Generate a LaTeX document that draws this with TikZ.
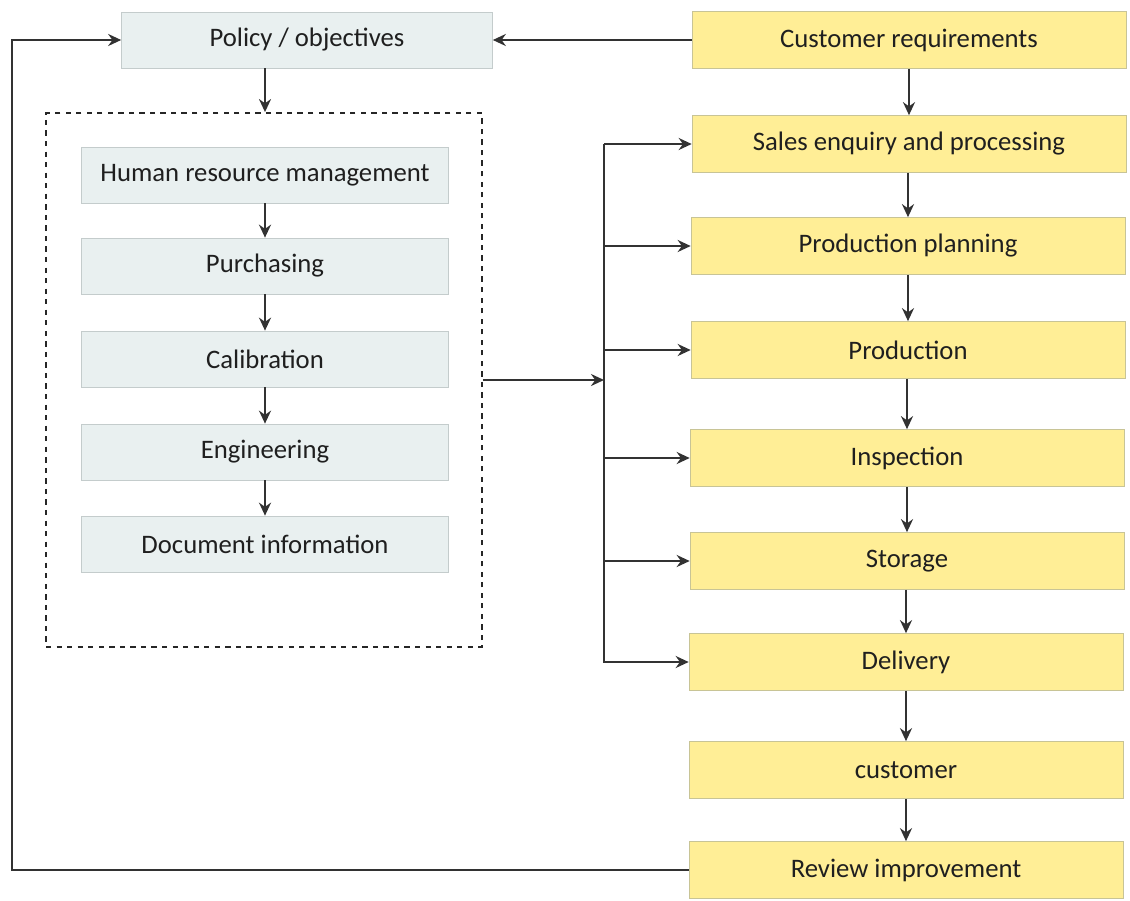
\documentclass[tikz,border=0pt]{standalone}
\usepackage{fontspec}
\setmainfont{Carlito}
\usetikzlibrary{arrows.meta,positioning}
\definecolor{boxgrey}{RGB}{233,240,240}
\definecolor{edgegrey}{RGB}{196,204,204}
\definecolor{procyellow}{RGB}{255,238,150}
\definecolor{edgeyellow}{RGB}{200,196,150}
\definecolor{linegrey}{RGB}{50,50,50}

\begin{document}
\begin{tikzpicture}[x=0.02cm,y=-0.02cm,font=\fontsize{15.2}{18}\selectfont,text=black!88,
  sup/.style={draw=edgegrey,fill=boxgrey,minimum width=7.34cm,minimum height=1.12cm,inner sep=2pt},
  proc/.style={draw=edgeyellow,fill=procyellow,minimum width=8.68cm,minimum height=1.14cm,inner sep=2pt},
  arr/.style={-{Stealth[length=2.6mm,width=2.4mm]},line width=1.6pt,linegrey}]
\useasboundingbox (0,0) rectangle (1130,900);
% support processes
\node[sup,minimum width=7.42cm] (pol) at (307,40) {Policy / objectives};
\node[draw=black!85,dashed,line width=1.1pt,minimum width=8.72cm,minimum height=10.68cm] (grp) at (264,380) {};
\node[sup] (hrm) at (265,175) {Human resource management};
\node[sup] (pur) at (265,266) {Purchasing};
\node[sup] (cal) at (265,359) {Calibration};
\node[sup] (eng) at (265,452) {Engineering};
\node[sup] (doc) at (265,544) {Document information};
% realisation processes
\node[proc] (creq) at (909,40) {Customer requirements};
\node[proc] (sales) at (909,144) {Sales enquiry and processing};
\node[proc] (plan) at (908,246) {Production planning};
\node[proc] (prod) at (908,350) {Production};
\node[proc] (insp) at (907,458) {Inspection};
\node[proc] (stor) at (907,561) {Storage};
\node[proc] (deliv) at (906,662) {Delivery};
\node[proc] (cust) at (906,770) {customer};
\node[proc] (rev) at (906,870) {Review improvement};
\coordinate (bus) at (604,380);
\coordinate (loop) at (12,0);
% flow
\draw[arr] (creq) -- (pol);
\draw[arr] (pol.south -| hrm) -- (grp.north -| hrm);
\foreach \a/\b in {hrm/pur,pur/cal,cal/eng,eng/doc}
  \draw[arr] (\a) -- (\b);
\foreach \a/\b in {creq/sales,sales/plan,plan/prod,prod/insp,insp/stor,stor/deliv,deliv/cust,cust/rev}
  \draw[arr] (\a.south -| \b) -- (\b);
\draw[arr] (grp) -- (bus);
\draw[line width=1.6pt,linegrey] (bus |- sales) -- (bus |- stor);
\foreach \b in {sales,plan,prod,insp,stor}
  \draw[arr] (bus |- \b) -- (\b);
\draw[arr] (bus |- stor) -- (bus |- deliv) -- (deliv);
\draw[arr] (rev) -- (loop |- rev) -- (loop |- pol) -- (pol);
\end{tikzpicture}
\end{document}
